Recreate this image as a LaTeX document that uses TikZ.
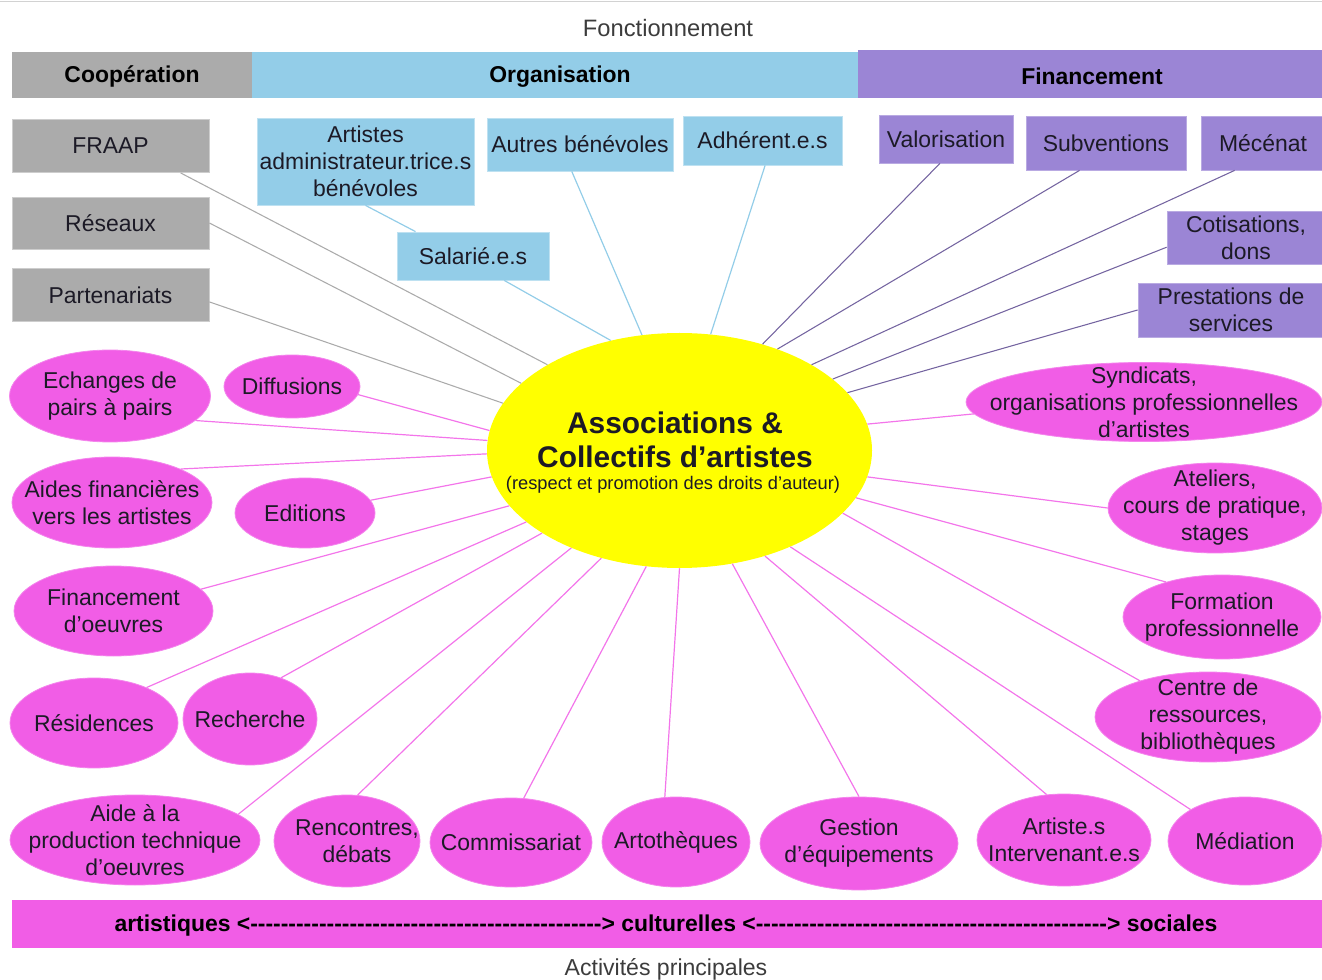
\documentclass[tikz,border=0pt]{standalone}
\usepackage{fontspec}
\setmainfont{Liberation Sans}
\usetikzlibrary{shapes.geometric}

\definecolor{coopgray}{HTML}{ABABAB}
\definecolor{orgblue}{HTML}{93CDE8}
\definecolor{finpurple}{HTML}{9B85D5}
\definecolor{actpink}{HTML}{F15DE6}
\definecolor{centreyellow}{HTML}{FFFF00}
\definecolor{inkdark}{HTML}{1C1A26}
\definecolor{headgray}{HTML}{3C3C3C}

% hyphens one by one, so no dash ligature is formed
\newcommand\dashrun{\foreach\k in {1,...,46}{-{}}}

\tikzset{
  sz/.style 2 args={minimum width=#1*0.75pt, minimum height=#2*0.75pt},
  txt/.style={align=center, text=inkdark},
  band/.style={fill=#1, inner sep=0pt, text=black, font=\fontsize{17.2}{20}\selectfont\bfseries},
  coopbox/.style={txt, fill=coopgray, draw=coopgray!60!white, line width=0.6pt, inner sep=0pt},
  orgbox/.style={txt, fill=orgblue, draw=orgblue!60!white, line width=0.6pt, inner sep=0pt},
  finbox/.style={txt, fill=finpurple, draw=finpurple!70!white, line width=0.6pt, inner sep=0pt},
  actell/.style={ellipse, fill=actpink, draw=actpink!75!white, line width=0.6pt, inner sep=0pt},
  coopline/.style={draw=coopgray, line width=0.8pt},
  orgline/.style={draw=orgblue, line width=0.9pt},
  finline/.style={draw=finpurple!75!black, line width=0.8pt},
  actline/.style={draw=actpink!85!white, line width=0.9pt},
}

\begin{document}
\begin{tikzpicture}[x=0.75pt, y=-0.75pt, font=\fontsize{17.2}{20.3}\selectfont]
\useasboundingbox (0,0) rectangle (1322,980);

\draw[gray!35, line width=1pt] (0,1.5) -- (1322,1.5);
\node[text=headgray, font=\fontsize{17.8}{20}\selectfont] (fonct) at (668,28) {Fonctionnement};

% bandeau du haut
\node[band=coopgray, sz={240}{46}] (coop) at (132,75) {};
\node[band=orgblue, sz={606}{46}] (orga) at (555,75) {};
\node[band=finpurple, sz={464}{48}] (fina) at (1090,74) {};
\node[band=none, text=black] (cooptxt) at (132,76.5) {Coopération};
\node[band=none, text=black] (orgatxt) at (560,76.5) {Organisation};
\node[band=none, text=black] (finatxt) at (1092,76.5) {Financement};

% cooperation
\node[coopbox, sz={197}{53}] (fraap) at (110.5,146) {FRAAP};
\node[coopbox, sz={197}{52}] (reseaux) at (110.5,223) {Réseaux};
\node[coopbox, sz={197}{53}] (partenariats) at (110.5,295) {Partenariats};

% organisation
\node[orgbox, sz={217}{87}] (artistes) at (365.5,161.5) {Artistes\\administrateur.trice.s\\bénévoles};
\node[orgbox, sz={186}{53}] (autres) at (580,144.5) {Autres bénévoles};
\node[orgbox, sz={159}{49}] (adherents) at (762.5,140.5) {Adhérent.e.s};
\node[orgbox, sz={152}{48}] (salaries) at (473,256) {Salarié.e.s};

% financement
\node[finbox, sz={134}{48}] (valorisation) at (946,139) {Valorisation};
\node[finbox, sz={160}{54}] (subventions) at (1106,143) {Subventions};
\node[finbox, sz={124}{54}] (mecenat) at (1263,143) {Mécénat};
\node[finbox, sz={158}{53}] (cotisations) at (1246,237.5) {Cotisations,\\dons};
\node[finbox, sz={186}{54}] (prestations) at (1231,310) {Prestations de\\services};

% le centre
\node[ellipse, fill=centreyellow, sz={385}{235}, inner sep=0pt] (asso) at (679.5,450.5) {};
\node[txt, font=\fontsize{22.4}{25.5}\selectfont\bfseries] (assotitre) at (675,440) {Associations \&\\Collectifs d’artistes};
\node[txt, font=\fontsize{13.7}{16}\selectfont] (assodroits) at (673,485) {(respect et promotion des droits d’auteur)};

% activites
\node[actell, sz={201}{92}, label={[txt]center:Echanges de\\pairs à pairs}] (echanges) at (110,396) {};
\node[actell, sz={136}{63}, label={[txt]center:Diffusions}] (diffusions) at (292,386.5) {};
\node[actell, sz={200}{91}, label={[txt]center:Aides financières\\vers les artistes}] (aides) at (112,502.5) {};
\node[actell, sz={140}{70}, label={[txt]center:Editions}] (editions) at (305,513) {};
\node[actell, sz={199}{90}, label={[txt]center:Financement\\d’oeuvres}] (financement) at (113.5,611) {};
\node[actell, sz={168}{90}, label={[txt]center:Résidences}] (residences) at (94,723) {};
\node[actell, sz={134}{92}, label={[txt]center:Recherche}] (recherche) at (250,719) {};
\node[actell, sz={250}{90}, label={[txt]center:Aide à la\\production technique\\d’oeuvres}] (aideprod) at (135,840) {};
\node[actell, sz={146}{92}, label={[txt, xshift=7.5pt]center:Rencontres,\\débats}] (rencontres) at (347,841) {};
\node[actell, sz={162}{89}, label={[txt]center:Commissariat}] (commissariat) at (511,842.5) {};
\node[actell, sz={148}{90}, label={[txt]center:Artothèques}] (artotheques) at (676,842) {};
\node[actell, sz={198}{93}, label={[txt]center:Gestion\\d’équipements}] (gestion) at (859,843.5) {};
\node[actell, sz={174}{92}, label={[txt]center:Artiste.s\\Intervenant.e.s}] (intervenants) at (1064,840) {};
\node[actell, sz={154}{88}, label={[txt]center:Médiation}] (mediation) at (1245,841) {};
\node[actell, sz={226}{90}, label={[txt]center:Centre de\\ressources,\\bibliothèques}] (centre) at (1208,717) {};
\node[actell, sz={198}{84}, label={[txt]center:Formation\\professionnelle}] (formation) at (1222,617) {};
\node[actell, sz={214}{90}, label={[txt]center:Ateliers,\\cours de pratique,\\stages}] (ateliers) at (1215,508) {};
\node[actell, sz={356}{79}, label={[txt]center:Syndicats,\\organisations professionnelles\\d’artistes}] (syndicats) at (1144,402) {};

% liens vers le centre
\foreach \a/\b in {fraap.-21/147.5, reseaux.east/157, partenariats.-4/165}
  \draw[coopline] (\a) -- (asso.\b);

\draw[orgline] (artistes.south) -- (salaries.157);
\foreach \a/\b in {salaries.-38/122, autres.-107/108, adherents.-84/75}
  \draw[orgline] (\a) -- (asso.\b);

\foreach \a/\b in {valorisation.-104/52, subventions.-134/46, mecenat.-136/33,
                   cotisations.187/25, prestations.west/19}
  \draw[finline] (\a) -- (asso.\b);

\foreach \a/\b in {echanges.-16/177, diffusions.-7/174, aides.26/181, editions.11/188,
                   financement.14/198, residences.34/205, recherche.53/211, aideprod.14/222,
                   rencontres.77/234, commissariat.74/254, artotheques.104/270, gestion.north/295,
                   intervenants.111/309, mediation.150/319, centre.152/339, formation.148/345,
                   ateliers.west/352, syndicats.184/8}
  \draw[actline] (\a) -- (asso.\b);

% bandeau du bas
\node[band=actpink, sz={1310}{48}] (axe) at (667,923.5) {};
\node[band=none, text=black] (axetxt) at (666,926) {artistiques <\dashrun> culturelles <\dashrun> sociales};
\node[text=headgray, font=\fontsize{17.3}{20}\selectfont] (activites) at (666,969) {Activités principales};

\end{tikzpicture}
\end{document}
